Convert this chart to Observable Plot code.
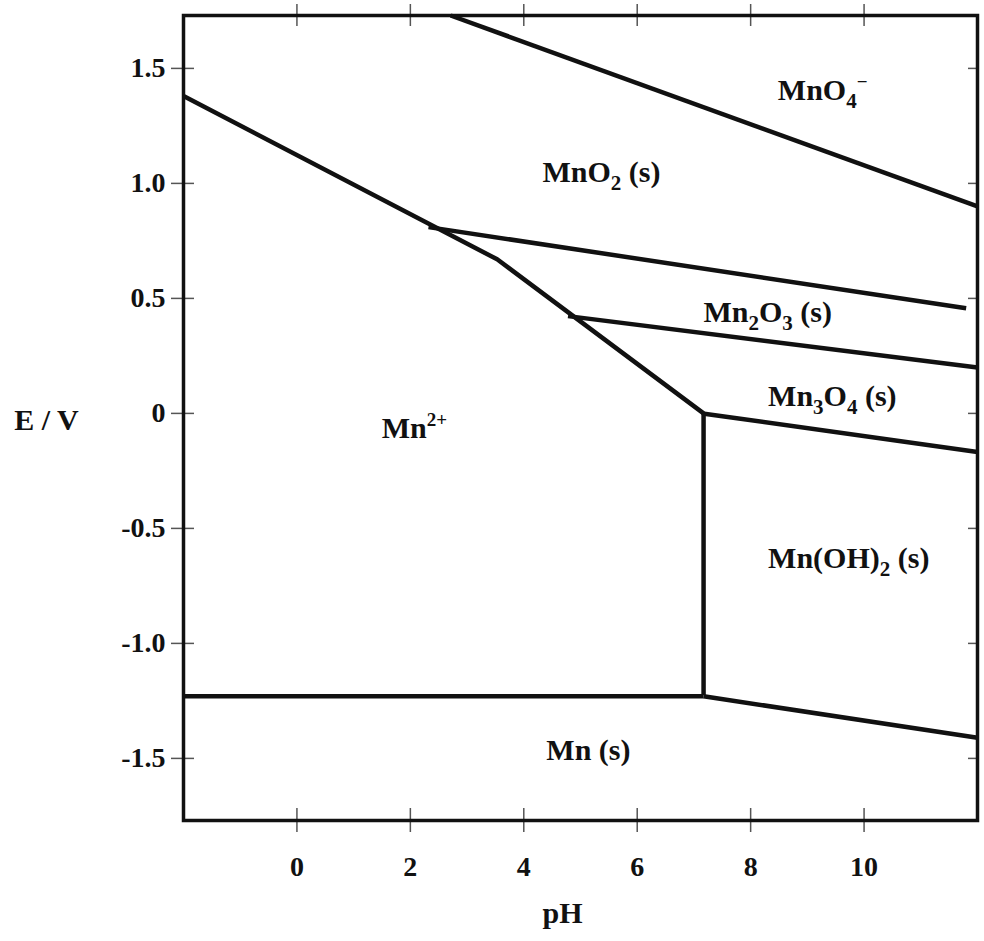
<!DOCTYPE html>
<html>
<head>
<meta charset="utf-8">
<script src="https://cdn.jsdelivr.net/npm/d3@7"></script>
<script src="https://cdn.jsdelivr.net/npm/@observablehq/plot@0.6"></script>
<style>
  html, body { margin: 0; padding: 0; background: #fff; }
  #chart svg { display: block; }
</style>
</head>
<body>
<div id="chart"></div>
<script>
// Axis ticks
const xTicks = [0, 2, 4, 6, 8, 10];
const yTicks = [1.5, 1.0, 0.5, 0, -0.5, -1.0, -1.5];

// Boundary lines (pH, E/V)
const mno4MnO2PH = [2.71, 12];      const mno4MnO2E = [1.73, 0.90];
const mn2MnO2PH = [-2, 3.53, 7.17]; const mn2MnO2E = [1.38, 0.67, 0.0];
const mno2Mn2o3PH = [2.32, 11.8];   const mno2Mn2o3E = [0.81, 0.457];
const mn2o3Mn3o4PH = [4.78, 12];    const mn2o3Mn3o4E = [0.423, 0.20];
const mn3o4OhPH = [7.15, 12];       const mn3o4OhE = [0.0, -0.168];
const mn2OhPH = [7.17, 7.17];       const mn2OhE = [0.0, -1.225];
const mn2MnPH = [-2, 7.17];         const mn2MnE = [-1.23, -1.23];
const ohMnPH = [7.17, 12];          const ohMnE = [-1.23, -1.41];

// Region labels ("_" = subscript char, "^" = superscript run)
const labelText = ["MnO_4^−", "MnO_2 (s)", "Mn_2O_3 (s)", "Mn_3O_4 (s)", "Mn^2+", "Mn(OH)_2 (s)", "Mn (s)"];
const labelPH   = [9.27, 5.37, 8.30, 9.44, 2.07, 9.73, 5.14];
const labelE    = [1.404, 1.047, 0.44, 0.073, -0.066, -0.63, -1.465];

// build tables
const boundaries = [
  [mno4MnO2PH, mno4MnO2E], [mn2MnO2PH, mn2MnO2E], [mno2Mn2o3PH, mno2Mn2o3E],
  [mn2o3Mn3o4PH, mn2o3Mn3o4E], [mn3o4OhPH, mn3o4OhE], [mn2OhPH, mn2OhE],
  [mn2MnPH, mn2MnE], [ohMnPH, ohMnE]
];
const lineRows = boundaries.flatMap(([ph, e], k) => ph.map((p, i) => ({id: k, pH: p, E: e[i]})));
const labels = labelText.map((t, i) => ({t, pH: labelPH[i], E: labelE[i]}));

const W = 984, H = 941;
const mL = 183, mR = 7, mT = 15, mB = 121;
const fw = W - mL - mR, fh = H - mT - mB;
const font = "Liberation Serif, Times New Roman, serif";
const tickStroke = "#555";

const chart = Plot.plot({
  width: W, height: H,
  marginLeft: mL, marginRight: mR, marginTop: mT, marginBottom: mB,
  style: {fontFamily: font, background: "#fff", color: "#111"},
  x: {domain: [-2, 12], axis: null},
  y: {domain: [-1.77, 1.73], axis: null},
  marks: [
    // tick marks crossing the frame
    Plot.ruleX(xTicks, {x: d => d, insetTop: fh - 12, insetBottom: -12, stroke: tickStroke, strokeWidth: 1.5}),
    Plot.ruleX(xTicks, {x: d => d, insetTop: -11, insetBottom: fh - 11, stroke: tickStroke, strokeWidth: 1.5}),
    Plot.ruleY(yTicks, {y: d => d, insetLeft: -12, insetRight: fw - 11, stroke: tickStroke, strokeWidth: 1.5}),
    Plot.ruleY(yTicks, {y: d => d, insetLeft: fw - 9, insetRight: 0, stroke: tickStroke, strokeWidth: 1.5}),
    // tick labels
    Plot.axisX(xTicks, {tickSize: 0, tickPadding: 36, fontSize: 28, fontWeight: "bold", tickFormat: d => String(d), label: null}),
    Plot.axisY(yTicks, {tickSize: 0, tickPadding: 18, fontSize: 28, fontWeight: "bold", tickFormat: d => d === 0 ? "0" : d.toFixed(1), label: null}),
    // boundaries
    Plot.line(lineRows, {x: "pH", y: "E", z: "id", stroke: "#111", strokeWidth: 4.5, strokeLinejoin: "miter", strokeLinecap: "butt"}),
    // frame
    Plot.frame({stroke: "#111", strokeWidth: 3.5}),
    // region labels
    Plot.text(labels, {x: "pH", y: "E", text: "t", fontSize: 30, fontWeight: "bold", fill: "#111"}),
    // axis titles
    Plot.text(["E / V"], {frameAnchor: "left", textAnchor: "middle", dx: -137, dy: 2, text: d => d, fontSize: 30, fontWeight: "bold", fill: "#111"}),
    Plot.text(["pH"], {frameAnchor: "bottom", dx: -18, dy: 102, text: d => d, fontSize: 30, fontWeight: "bold", fill: "#111"})
  ]
});

// Turn "_" and "^" markup into real sub/superscript tspans
d3.select(chart).selectAll("text").each(function() {
  const el = this;
  if (el.querySelector("tspan")) return;
  const s = el.textContent;
  if (!/[_^]/.test(s)) return;
  const segs = [];
  let i = 0, buf = "";
  while (i < s.length) {
    const c = s[i];
    if (c === "_") {
      if (buf) segs.push({t: buf, k: "n"}), buf = "";
      segs.push({t: s[i + 1], k: "sub"}); i += 2;
    } else if (c === "^") {
      if (buf) segs.push({t: buf, k: "n"}), buf = "";
      let j = i + 1, sup = "";
      while (j < s.length && s[j] !== " ") sup += s[j++];
      segs.push({t: sup, k: "sup"}); i = j;
    } else { buf += c; i++; }
  }
  if (buf) segs.push({t: buf, k: "n"});
  el.textContent = "";
  let cur = 0;
  for (const seg of segs) {
    const target = seg.k === "sub" ? 8 : seg.k === "sup" ? -12 : 0;
    const ts = document.createElementNS("http://www.w3.org/2000/svg", "tspan");
    ts.setAttribute("dy", (target - cur) + "px");
    if (seg.k !== "n") ts.setAttribute("font-size", seg.k === "sub" ? "21px" : "19px");
    ts.textContent = seg.t;
    el.appendChild(ts);
    cur = target;
  }
});

document.getElementById("chart").appendChild(chart);
</script>
</body>
</html>
